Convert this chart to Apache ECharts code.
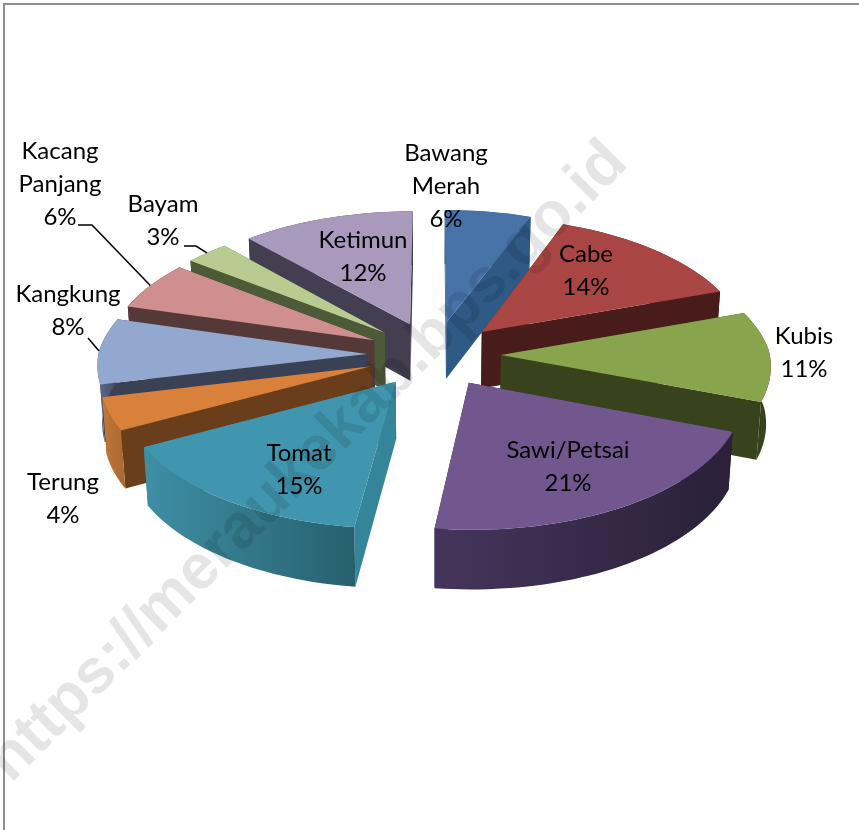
<!DOCTYPE html>
<html>
<head>
<meta charset="utf-8">
<style>
html, body { margin: 0; padding: 0; background: #fff; }
#chart { width: 859px; height: 830px; }
</style>
<script src="https://cdn.jsdelivr.net/npm/echarts@6/dist/echarts.min.js"></script>
</head>
<body>
<div id="chart"></div>
<script>
var categories = ["Bawang\nMerah", "Cabe", "Kubis", "Sawi/Petsai", "Tomat", "Terung", "Kangkung", "Kacang\nPanjang", "Bayam", "Ketimun"];
var values = [6, 14, 11, 21, 15, 4, 8, 6, 3, 12];
var topColors = ["#4773a9", "#a94644", "#88a44d", "#71578e", "#4096ae", "#d9813b", "#92a8ce", "#cf8f8e", "#b8cc92", "#a899bd"];
var wallColors = ["#2f5a86", "#471c1a", "#38431d", "#2b2139", "#35859a", "#6a3e1b", "#3a4154", "#553939", "#4d5a38", "#433e50"];
var arcFrom = ["#2f5a86", "#471c1a", "#38431d", "#45355c", "#3f8fa5", "#c2783a", "#5c6e90", "#553939", "#4d5a38", "#433e50"];
var arcTo = ["#2f5a86", "#471c1a", "#38431d", "#2a2038", "#26606e", "#a9682f", "#3a4154", "#553939", "#4d5a38", "#433e50"];

// back slices first, the front ones paint over them
var drawOrder = [0, 9, 1, 8, 7, 2, 6, 5, 3, 4];

// label centres and the free end of the leader lines, in page pixels
var labelPos = [[446, 186], [586, 271], [804, 353], [568, 467], [299, 470], [63, 499], [68, 311], [60, 184], [163, 221], [363, 257]];
var leaderPath = { 6: [[88, 338]], 7: [[78, 225], [92, 225]], 8: [[184, 246], [196, 246]] };

var CX = 434, CY = 351;
var RADIUS = 268, EXPLODE = 67, TILT = 0.49, DEPTH = 57;
var PERSP_BACK = 0.00048, PERSP_FRONT = 0.00033, FLOOR_SHRINK = 0.986, APEX_DROP = 3;

var total = values.reduce(function (a, b) { return a + b; }, 0);
var starts = [];
values.reduce(function (sum, v, i) { starts[i] = sum; return sum + v; }, 0);

function toAngle(v) {
	return v / total * Math.PI * 2;
}

// pie plane point (a: clockwise from the back, r: radius) to screen
function project(idx, a, r, down) {
	var mid = toAngle(starts[idx] + values[idx] / 2);
	var x = r * Math.sin(a) + EXPLODE * Math.sin(mid);
	var y = r * Math.cos(a) + EXPLODE * Math.cos(mid);
	var s = 1 / (1 + (y > 0 ? PERSP_BACK : PERSP_FRONT) * y);
	var h = down ? DEPTH * Math.pow(s, 0.4) : 0;
	var sx = s * x * (down ? FLOOR_SHRINK : 1);
	return [CX + sx, CY - s * TILT * y + h + APEX_DROP * (1 - r / RADIUS)];
}

function sector(idx, down) {
	var a0 = toAngle(starts[idx]);
	var a1 = toAngle(starts[idx] + values[idx]);
	var n = Math.max(4, Math.ceil((a1 - a0) / 0.03));
	var pts = [];
	for (var i = 0; i <= n; i++) {
		pts.push(project(idx, a0 + (a1 - a0) * i / n, RADIUS, down));
	}
	return pts;
}

function poly(points, fill) {
	return { type: "polygon", shape: { points: points }, style: { fill: fill, stroke: null } };
}

function renderSlice(params, api) {
	var idx = api.value(0);
	var top = sector(idx, false);
	var bottom = sector(idx, true);
	var apexTop = project(idx, 0, 0, false);
	var apexBottom = project(idx, 0, 0, true);
	var last = top.length - 1;
	var wall = wallColors[idx];
	var arcFill = new echarts.graphic.LinearGradient(0, 0, 1, 0, [
		{ offset: 0, color: arcFrom[idx] },
		{ offset: 1, color: arcTo[idx] }
	]);
	return {
		type: "group",
		children: [
			poly([apexTop, top[0], bottom[0], apexBottom], wall),
			poly([apexTop, top[last], bottom[last], apexBottom], wall),
			poly(top.concat(bottom.slice().reverse()), arcFill),
			poly([apexTop].concat(top), topColors[idx])
		]
	};
}

function renderLabel(params, api) {
	var idx = api.value(0);
	var children = [{
		type: "text",
		x: labelPos[idx][0],
		y: labelPos[idx][1],
		style: {
			text: categories[idx] + "\n" + values[idx] + "%",
			font: "24px Lato",
			lineHeight: 33,
			fill: "#000",
			align: "center",
			verticalAlign: "middle"
		}
	}];
	if (leaderPath[idx]) {
		var mid = toAngle(starts[idx] + values[idx] / 2);
		var end = project(idx, mid, RADIUS, false);
		children.push({
			type: "polyline",
			shape: { points: leaderPath[idx].concat([end]) },
			style: { stroke: "#000", lineWidth: 1.5, fill: null }
		});
	}
	return { type: "group", children: children };
}

var chart = echarts.init(document.getElementById("chart"));
chart.setOption({
	animation: false,
	backgroundColor: "#fff",
	graphic: [
		{
			type: "rect",
			z: 0,
			shape: { x: 4, y: 4, width: 1000, height: 1000 },
			style: { fill: null, stroke: "#8f8f8f", lineWidth: 2 }
		},
		{
			type: "text",
			z: 100,
			x: 308,
			y: 462,
			rotation: Math.PI / 4,
			style: {
				text: "https://meraukekab.bps.go.id",
				font: "bold 63px 'Liberation Sans'",
				fill: "rgba(0,0,0,0.1)",
				align: "center",
				verticalAlign: "middle"
			}
		}
	],
	series: [
		{
			type: "custom",
			coordinateSystem: "none",
			silent: true,
			renderItem: renderSlice,
			data: drawOrder.map(function (i) { return [i, values[i]]; })
		},
		{
			type: "custom",
			coordinateSystem: "none",
			silent: true,
			renderItem: renderLabel,
			data: values.map(function (v, i) { return [i, v]; })
		}
	]
});
</script>
</body>
</html>
